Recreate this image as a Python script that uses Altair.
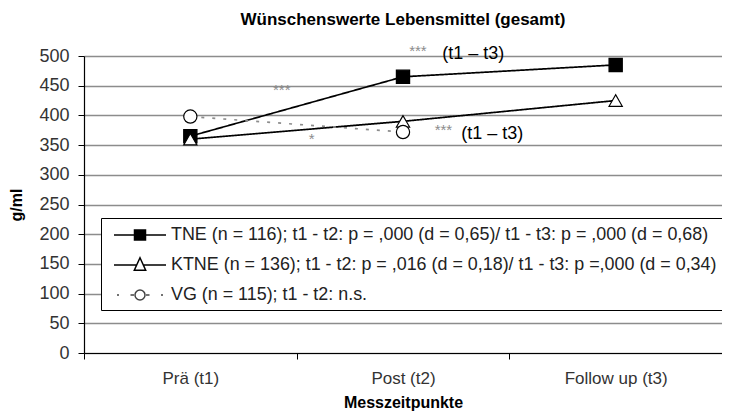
import altair as alt
import pandas as pd

# ---------------- data ----------------
categories = ["Prä (t1)", "Post (t2)", "Follow up (t3)"]
series_names = ["TNE", "KTNE", "VG"]
legend_labels = [
    "TNE (n = 116); t1 - t2: p = ,000 (d = 0,65)/ t1 - t3: p = ,000 (d = 0,68)",
    "KTNE (n = 136); t1 - t2: p = ,016 (d = 0,18)/ t1 - t3: p =,000 (d = 0,34)",
    "VG (n = 115); t1 - t2: n.s.",
]
tne_values = [365, 465, 485]
ktne_values = [360, 390, 425]
vg_values = [398, 372]
y_ticks = list(range(0, 501, 50))

# significance annotations (x in category units, y in g/ml)
star_x = [0.93, 1.57, 1.69, 1.07]
star_y = [443, 509, 375, 360]
star_text = ["***", "***", "***", "*"]
paren_x = [1.83, 1.92]
paren_y = [503, 369]
paren_text = ["(t1 – t3)", "(t1 – t3)"]

# ---------------- tables ----------------
rows = []
for name, lab, vals in zip(series_names, legend_labels, [tne_values, ktne_values, vg_values]):
    for i, v in enumerate(vals):
        rows.append({"series": name, "label": lab, "pos": i + 0.5, "value": v})
df = pd.DataFrame(rows)
stars = pd.DataFrame({"pos": star_x, "value": star_y, "t": star_text})
parens = pd.DataFrame({"pos": paren_x, "value": paren_y, "t": paren_text})

FONT = "Liberation Sans"

label_expr = " : ".join(
    f"datum.value == {i + 0.5} ? '{c}'" for i, c in enumerate(categories)
) + " : ''"

xscale = alt.Scale(domain=[0, 3], nice=False, zero=False)
yscale = alt.Scale(domain=[0, 500], nice=False)

xaxis = alt.Axis(
    values=[0, 0.5, 1, 1.5, 2, 2.5, 3],
    labelExpr=label_expr,
    labelOverlap=False,
    labelFlush=False,
    grid=False,
    tickSize=6,
    tickColor="black",
    tickOpacity={"condition": {"test": "datum.value % 1 == 0", "value": 1}, "value": 0},
    domainColor="black",
    domainWidth=1.2,
    labelFont=FONT,
    labelFontSize=17,
    labelColor="#333333",
    labelPadding=11,
    title="Messzeitpunkte",
    titleFont=FONT,
    titleFontSize=16,
    titleFontWeight="bold",
    titleColor="black",
    titlePadding=8,
)
yaxis = alt.Axis(
    values=y_ticks,
    labelOverlap=False,
    grid=True,
    gridColor="#8c8c8c",
    gridWidth=1.3,
    tickSize=6,
    tickColor="black",
    domainColor="black",
    domainWidth=1.2,
    labelFont=FONT,
    labelFontSize=18,
    labelColor="#333333",
    labelPadding=9,
    title="g/ml",
    titleFont=FONT,
    titleFontSize=16,
    titleFontWeight="bold",
    titleColor="black",
    titlePadding=14,
)

X = alt.X("pos:Q", scale=xscale, axis=xaxis)
Y = alt.Y("value:Q", scale=yscale, axis=yaxis)

lines = alt.Chart(df).mark_line(strokeWidth=1.7).encode(
    x=X,
    y=Y,
    color=alt.Color("label:N", scale=alt.Scale(domain=legend_labels, range=["black", "black", "#8c8c8c"]), legend=None),
    strokeDash=alt.StrokeDash("label:N", scale=alt.Scale(domain=legend_labels, range=[[1, 0], [1, 0], [3, 8]]), legend=None),
    order="pos:Q",
)

points = alt.Chart(df).mark_point(filled=True, stroke="black", strokeWidth=1.2, opacity=1, size=175).encode(
    x=X,
    y=Y,
    shape=alt.Shape("label:N", scale=alt.Scale(domain=legend_labels, range=["square", "triangle-up", "circle"]), legend=None),
    fill=alt.Fill("label:N", scale=alt.Scale(domain=legend_labels, range=["black", "white", "white"]), legend=None),
)

# legend symbols: line + marker drawn as custom paths (unit = sqrt(size)/2 px)
path_tne = "M-2.6,0H-0.55M0.55,0H2.6M-0.55,-0.5H0.55V0.5H-0.55Z"
path_ktne = "M-2.6,0H-0.33M0.33,0H2.6M0,-0.73L0.57,0.53H-0.57Z"
path_vg = ("M-2.3,0H-2.1M-0.95,0H-0.6M0.6,0H0.95M2.1,0H2.3"
           "M0.5,0A0.5,0.5,0,1,1,-0.5,0A0.5,0.5,0,1,1,0.5,0Z")

leg = alt.Legend(
    orient="none",
    legendX=17,
    legendY=162,
    direction="vertical",
    title=None,
    fillColor="white",
    strokeColor="black",
    padding=6,
    symbolSize=400,
    symbolOffset=22,
    labelOffset=20,
    symbolStrokeColor="black",
    symbolStrokeWidth=1.5,
    symbolOpacity=1,
    labelFont=FONT,
    labelFontSize=17.9,
    labelColor="#222222",
    labelLimit=900,
    rowPadding=10,
)

legend_layer = alt.Chart(df).mark_point(filled=True, opacity=0, strokeWidth=1.5).encode(
    x=X,
    y=Y,
    shape=alt.Shape("label:N", scale=alt.Scale(domain=legend_labels, range=[path_tne, path_ktne, path_vg]), legend=leg),
    fill=alt.Fill("label:N", scale=alt.Scale(domain=legend_labels, range=["black", "white", "white"]), legend=leg),
    stroke=alt.Stroke("label:N", scale=alt.Scale(domain=legend_labels, range=["black", "black", "#444444"]), legend=leg),
)

star_layer = alt.Chart(stars).mark_text(font=FONT, fontSize=15, color="#8c8c8c", baseline="middle").encode(
    x=X, y=Y, text="t:N"
)
paren_layer = alt.Chart(parens).mark_text(font=FONT, fontSize=18, color="black", baseline="middle").encode(
    x=X, y=Y, text="t:N"
)

chart = alt.layer(lines, points, legend_layer, star_layer, paren_layer).resolve_scale(
    shape="independent", fill="independent", stroke="independent"
).properties(
    width=638,
    height=297,
    autosize=alt.AutoSizeParams(type="none"),
    padding={"left": 76, "top": 48, "right": 0, "bottom": 58},
    title=alt.TitleParams(
        "Wünschenswerte Lebensmittel (gesamt)",
        font=FONT, fontSize=17, fontWeight="bold", color="black", anchor="middle", offset=15,
    ),
).configure_view(stroke=None)

chart.save("out.html", embed_options={"renderer": "svg", "actions": False})
